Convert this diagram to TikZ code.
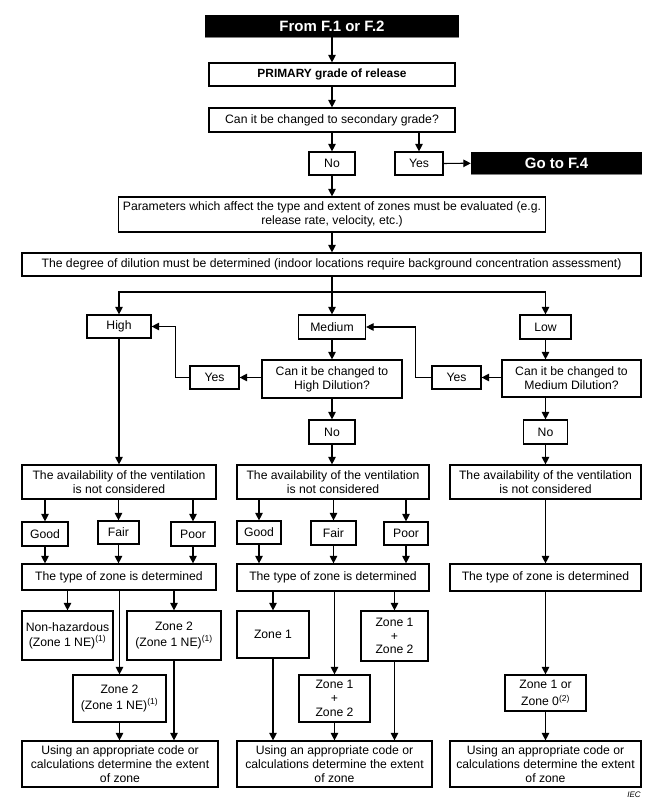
\documentclass[tikz,border=0pt]{standalone}
\usepackage{fontspec}
\setmainfont{Liberation Sans}
\usetikzlibrary{arrows.meta}

\begin{document}
\begin{tikzpicture}[x=1pt, y=-1pt,
    box/.style={draw, line width=1.2pt, align=center, inner sep=1pt,
        font=\fontsize{12.2}{13.8}\selectfont},
    blk/.style={fill=black, text=white, inner sep=0pt,
        font=\bfseries\fontsize{15}{16}\selectfont},
    arr/.style={line width=1.2pt, -{Triangle[length=7.5pt,width=7.5pt]}}]
    \useasboundingbox (0,0) rectangle (654,800);
    % head of the chart
    \node[blk, minimum width=254, minimum height=22] (from) at (332,26) {From F.1 or F.2};
    \draw[gray, line width=1pt] (from.south west) -- (from.south east);
    \node[box, minimum width=246, minimum height=23, font=\bfseries\fontsize{11.9}{13.5}\selectfont]
        (primary) at (332,74.5) {PRIMARY grade of release};
    \node[box, minimum width=246, minimum height=24] (cansec) at (332,120) {Can it be changed to secondary grade?};
    \node[box, minimum width=46, minimum height=23] (noA) at (332,163.5) {No};
    \node[box, minimum width=48, minimum height=23] (yesA) at (419,163.5) {Yes};
    \node[blk, minimum width=171, minimum height=22] (goto) at (556.5,163) {Go to F.4};
    \draw[gray, line width=1pt] (goto.south west) -- (goto.south east);
    \node[box, minimum width=427, minimum height=35] (params) at (332,214.5)
        {Parameters which affect the type and extent of zones must be evaluated (e.g.\\release rate, velocity, etc.)};
    \node[box, minimum width=619, minimum height=23] (dilution) at (331.5,264.5)
        {The degree of dilution must be determined (indoor locations require background concentration assessment)};
    \draw[arr] (from) -- (primary);
    \draw[arr] (primary) -- (cansec);
    \draw[arr] (cansec) -- (noA);
    \draw[arr] (cansec.south -| yesA) -- (yesA);
    \draw[arr] (yesA) -- (goto);
    \draw[arr] (noA) -- (params);
    \draw[arr] (params) -- (params |- dilution.north);
    % degree of dilution
    \node[box, minimum width=64, minimum height=23] (high) at (119,326.5) {High};
    \node[box, minimum width=67, minimum height=24] (medium) at (332,327) {Medium};
    \node[box, minimum width=51, minimum height=24] (low) at (545.5,327) {Low};
    \coordinate (split) at (332,292);
    \draw[line width=1.2pt] (dilution.south -| split) -- (split);
    \draw[arr] (split) -- (medium);
    \draw[arr] (split) -| (high);
    \draw[arr] (split) -| (low);
    \node[box, minimum width=49, minimum height=23] (yesL) at (214.5,377.5) {Yes};
    \node[box, minimum width=140, minimum height=38] (canhigh) at (332,379) {Can it be changed to\\High Dilution?};
    \node[box, minimum width=49, minimum height=23] (yesR) at (456.5,377.5) {Yes};
    \node[box, minimum width=139, minimum height=37] (canmed) at (571.5,378.5) {Can it be changed to\\Medium Dilution?};
    \node[box, minimum width=46, minimum height=24] (noM) at (332,432) {No};
    \node[box, minimum width=44, minimum height=24] (noR) at (545.5,432) {No};
    \draw[arr] (medium) -- (canhigh);
    \draw[arr] (canhigh.west |- yesL) -- (yesL);
    \draw[arr] (yesL.west) -- ++(-14,0) |- (high.east);
    \draw[arr] (canhigh) -- (noM);
    \draw[arr] (low) -- (low |- canmed.north);
    \draw[arr] (canmed.west |- yesR) -- (yesR);
    \draw[arr] (yesR.west) -- ++(-16,0) |- (medium.east);
    \draw[arr] (canmed.south -| noR) -- (noR);
    % availability of the ventilation
    \node[box, minimum width=194, minimum height=34] (availL) at (119,482) {The availability of the ventilation\\is not considered};
    \node[box, minimum width=192, minimum height=34] (availM) at (333,482) {The availability of the ventilation\\is not considered};
    \node[box, minimum width=191, minimum height=34] (availR) at (545.5,482) {The availability of the ventilation\\is not considered};
    \draw[arr] (high) -- (availL);
    \draw[arr] (noM) -- (noM |- availM.north);
    \draw[arr] (noR) -- (availR);
    \node[box, minimum width=46, minimum height=24] (goodL) at (45,534) {Good};
    \node[box, minimum width=41, minimum height=23] (fairL) at (118.5,532.5) {Fair};
    \node[box, minimum width=44, minimum height=24] (poorL) at (193,534) {Poor};
    \node[box, minimum width=44, minimum height=23] (goodM) at (259,532.5) {Good};
    \node[box, minimum width=45, minimum height=24] (fairM) at (333.5,533) {Fair};
    \node[box, minimum width=44, minimum height=23] (poorM) at (406,533.5) {Poor};
    \node[box, minimum width=194, minimum height=26] (typeL) at (119,577) {The type of zone is determined};
    \node[box, minimum width=192, minimum height=27] (typeM) at (333,577.5) {The type of zone is determined};
    \node[box, minimum width=191, minimum height=27] (typeR) at (545.5,577.5) {The type of zone is determined};
    \foreach \v in {goodL, fairL, poorL} {
        \draw[arr] (availL.south -| \v) -- (\v);
        \draw[arr] (\v) -- (\v |- typeL.north);
    }
    \foreach \v in {goodM, fairM, poorM} {
        \draw[arr] (availM.south -| \v) -- (\v);
        \draw[arr] (\v) -- (\v |- typeM.north);
    }
    \draw[arr] (availR) -- (typeR);
    % zones
    \node[box, minimum width=91, minimum height=49] (nonhaz) at (67.5,635.5) {Non-hazardous\\[1.5pt](Zone 1 NE)\textsuperscript{(1)}};
    \node[box, minimum width=94, minimum height=49] (zoneIIa) at (174,635.5) {Zone 2\\[1.5pt](Zone 1 NE)\textsuperscript{(1)}};
    \node[box, minimum width=93, minimum height=47] (zoneIIb) at (119.5,698.5) {Zone 2\\[1.5pt](Zone 1 NE)\textsuperscript{(1)}};
    \node[box, minimum width=72, minimum height=47] (zoneI) at (273,634.5) {Zone 1};
    \node[box, minimum width=71, minimum height=47] (zoneIIIb) at (334.5,698.5) {Zone 1\\+\\Zone 2};
    \node[box, minimum width=67, minimum height=50] (zoneIIIa) at (394.5,636) {Zone 1\\+\\Zone 2};
    \node[box, minimum width=81, minimum height=36] (zoneIO) at (545.5,693) {Zone 1 or\\[3pt]Zone 0\textsuperscript{(2)}};
    \draw[arr] (typeL.south -| nonhaz) -- (nonhaz);
    \draw[arr] (typeL.south -| zoneIIa) -- (zoneIIa);
    \draw[arr] (typeL.south -| zoneIIb) -- (zoneIIb);
    \draw[arr] (typeM.south -| zoneI) -- (zoneI);
    \draw[arr] (typeM.south -| zoneIIIb) -- (zoneIIIb);
    \draw[arr] (typeM.south -| zoneIIIa) -- (zoneIIIa);
    \draw[arr] (typeR.south -| zoneIO) -- (zoneIO);
    % extent of zone
    \node[box, minimum width=196, minimum height=46] (usingL) at (120,764) {Using an appropriate code or\\calculations determine the extent\\of zone};
    \node[box, minimum width=195, minimum height=46] (usingM) at (334.5,764) {Using an appropriate code or\\calculations determine the extent\\of zone};
    \node[box, minimum width=191, minimum height=46] (usingR) at (545.5,764) {Using an appropriate code or\\calculations determine the extent\\of zone};
    \draw[arr] (zoneIIb) -- (zoneIIb |- usingL.north);
    \draw[arr] (zoneIIa) -- (zoneIIa |- usingL.north);
    \draw[arr] (zoneI) -- (zoneI |- usingM.north);
    \draw[arr] (zoneIIIb) -- (zoneIIIb |- usingM.north);
    \draw[arr] (zoneIIIa) -- (zoneIIIa |- usingM.north);
    \draw[arr] (zoneIO) -- (usingR);
    \node[font=\itshape\fontsize{8}{8}\selectfont, inner sep=0pt] (iec) at (634,795) {IEC};
\end{tikzpicture}
\end{document}
